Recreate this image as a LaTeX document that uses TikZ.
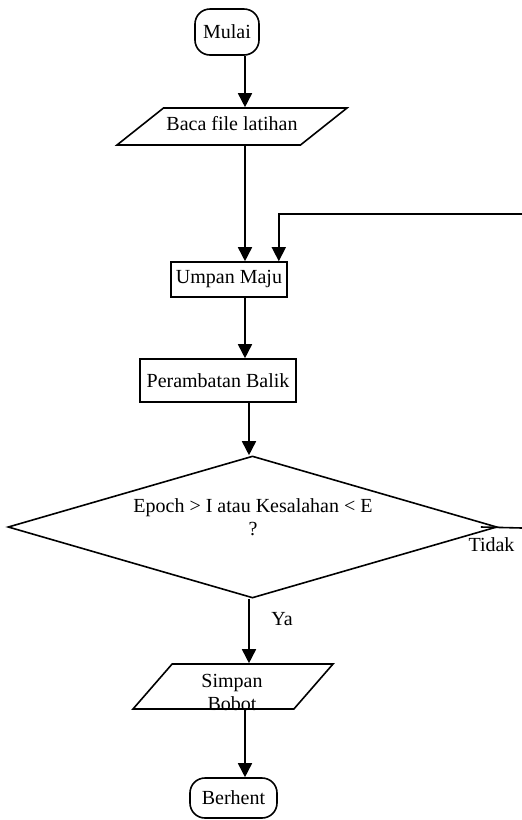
\documentclass[tikz,border=0pt]{standalone}
\usepackage{fontspec}
\setmainfont{Liberation Serif}
\usetikzlibrary{arrows.meta,shapes.geometric}

\begin{document}
\begin{tikzpicture}[x=1pt,y=-1pt,line width=1.6pt,font=\fontsize{20}{23}\selectfont,
  term/.style={draw,rounded corners=15pt,inner sep=0pt},
  proc/.style={draw,inner sep=0pt},
  io/.style 2 args={draw,trapezium,trapezium left angle=#1,trapezium right angle=#2,
    trapezium stretches body,inner xsep=0pt,text height=14pt,text depth=7pt},
  arr/.style={-{Triangle[width=14pt,length=14pt]}}]
  \useasboundingbox (0,0) rectangle (522,820);
  % shapes
  \node[term,minimum width=64,minimum height=46] (mulai) at (227,32) {Mulai};
  \node[io={38.5}{141.5},inner ysep=8pt,minimum width=230] (baca) at (232,126.5) {Baca file latihan};
  \node[proc,minimum width=116,minimum height=35] (umpan) at (229,279.5) {Umpan Maju};
  \node[proc,minimum width=156,minimum height=43] (perambatan) at (218,380.5) {Perambatan Balik};
  \node[draw,diamond,aspect=3.44,minimum width=489,minimum height=142,inner sep=0pt] (cek) at (252.5,527) {};
  \node[align=center] (cektxt) at (253,517) {Epoch > I atau Kesalahan < E\\?};
  \node[io={49}{131},inner ysep=12pt,minimum width=200] (simpan) at (233,686.5) {};
  \node[align=center] (simpantxt) at (232,692) {Simpan\\Bobot};
  \node[term,minimum width=87,minimum height=40] (berhent) at (233.5,798) {Berhent};
  \node (ya) at (282,619) {Ya};
  \node (tidak) at (491.5,544.5) {Tidak};
  % connectors
  \coordinate (sp) at (245,0);
  \coordinate (sq) at (249,0);
  \coordinate (balik) at (522,214);
  \coordinate (keluar) at (522,528);
  \draw[arr] (mulai.south -| sp) -- (baca.north -| sp);
  \draw[arr] (baca.south -| sp) -- (umpan.north -| sp);
  \draw[arr] (balik) -| ([xshift=-9pt]umpan.north east);
  \draw[arr] (umpan.south -| sp) -- (perambatan.north -| sp);
  \draw[arr] (perambatan.south -| sq) -- (cek.north -| sq);
  \draw[arr] (cek.south -| sq) -- (simpan.north -| sq);
  \draw[arr] (simpan.south -| sp) -- (berhent.north -| sp);
  \draw ([xshift=-17pt]cek.east) -- (keluar);
\end{tikzpicture}
\end{document}
